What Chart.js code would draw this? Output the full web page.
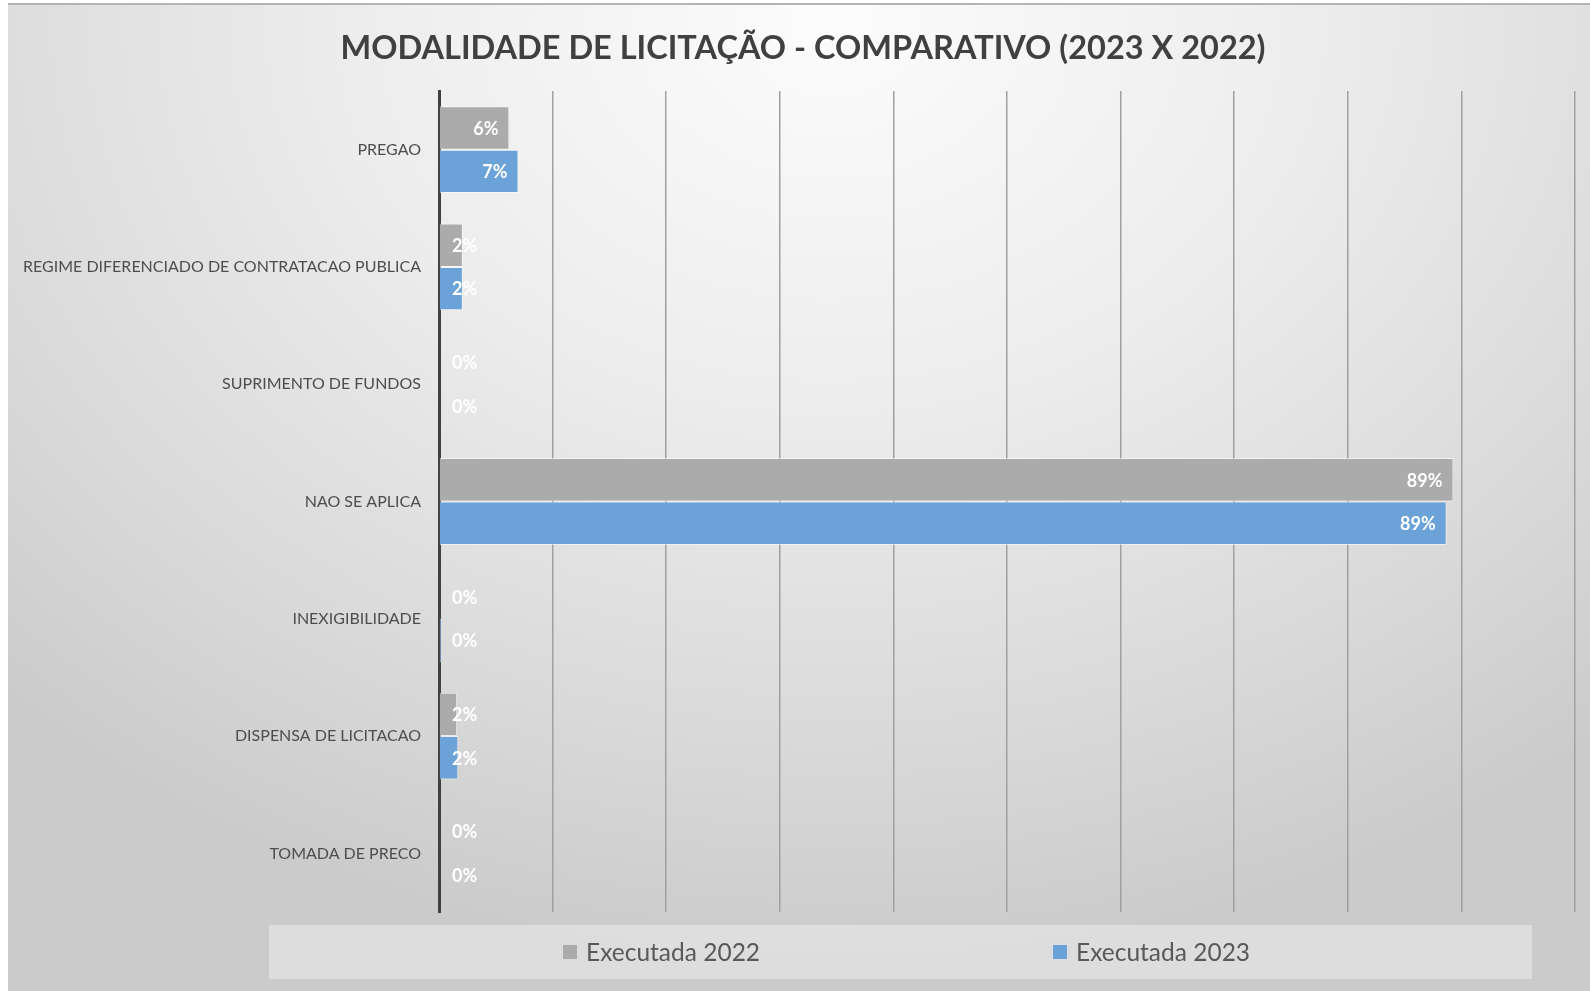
<!DOCTYPE html>
<html>
<head>
<meta charset="utf-8">
<script src="https://cdn.jsdelivr.net/npm/chart.js@4"></script>
<style>
  html, body { margin: 0; padding: 0; background: #fff; overflow: hidden; }
  #wrap {
    position: absolute; left: 8px; top: 3px; width: 1582px; height: 988px;
    background: radial-gradient(ellipse 75% 95% at 52% 2%, #fcfcfc 0%, #ededed 40%, #dadada 75%, #cbcbcb 100%);
  }
  #wrap::before {
    content: ''; position: absolute; left: 0; top: 0; right: 0; height: 2px; background: #b4b4b4;
  }
  canvas { display: block; }
</style>
</head>
<body>
<div id="wrap"><canvas id="modalidade"></canvas></div>
<script>
const categories = [
    'PREGAO',
    'REGIME DIFERENCIADO DE CONTRATACAO PUBLICA',
    'SUPRIMENTO DE FUNDOS',
    'NAO SE APLICA',
    'INEXIGIBILIDADE',
    'DISPENSA DE LICITACAO',
    'TOMADA DE PRECO'
];
const executada2022 = [6.2, 2.1, 0, 89.3, 0, 1.6, 0];
const executada2023 = [7.0, 2.1, 0, 88.7, 0.2, 1.7, 0];
const xTicks = [0, 10, 20, 30, 40, 50, 60, 70, 80, 90, 100];

// rotulos brancos no fim de cada barra
const barLabels = {
    id: 'barLabels',
    afterDatasetsDraw(chart) {
        const ctx = chart.ctx;
        const x0 = chart.scales.x.getPixelForValue(0);
        ctx.save();
        ctx.font = 'bold 18px Lato';
        ctx.fillStyle = '#ffffff';
        ctx.textBaseline = 'middle';
        chart.data.datasets.forEach((ds, i) => {
            chart.getDatasetMeta(i).data.forEach((bar, j) => {
                const text = Math.round(ds.data[j]) + '%';
                const w = ctx.measureText(text).width;
                const x = Math.max(bar.x - 11 - w, x0 + 13);
                ctx.fillText(text, x, bar.y + 1);
            });
        });
        ctx.restore();
    }
};

// legenda dentro de uma caixa clara embaixo
const boxLegend = {
    id: 'boxLegend',
    afterDraw(chart) {
        const ctx = chart.ctx;
        const box = { x: 261, y: 922, w: 1263, h: 54 };
        const starts = [555, 1045];
        ctx.save();
        ctx.fillStyle = 'rgba(255, 255, 255, 0.35)';
        ctx.fillRect(box.x, box.y, box.w, box.h);
        ctx.font = '24.5px Lato';
        ctx.textBaseline = 'middle';
        chart.data.datasets.forEach((ds, i) => {
            ctx.fillStyle = ds.backgroundColor;
            ctx.fillRect(starts[i], box.y + 20, 14, 14);
            ctx.fillStyle = '#595959';
            ctx.fillText(ds.label, starts[i] + 23, box.y + 28.5);
        });
        ctx.restore();
    }
};

const ctx = document.getElementById('modalidade');
window.modalidade = new Chart(ctx, {
    type: 'bar',
    data: {
        labels: categories,
        datasets: [
            {
                label: 'Executada 2022',
                data: executada2022,
                backgroundColor: '#ababab',
                borderColor: 'rgba(255, 255, 255, 0.55)',
                borderWidth: 1,
                barPercentage: 1.0,
                categoryPercentage: 0.74
            },
            {
                label: 'Executada 2023',
                data: executada2023,
                backgroundColor: '#6ba3d9',
                borderColor: 'rgba(255, 255, 255, 0.55)',
                borderWidth: 1,
                barPercentage: 1.0,
                categoryPercentage: 0.74
            }
        ]
    },
    options: {
        indexAxis: 'y',
        responsive: true,
        maintainAspectRatio: false,
        animation: false,
        layout: { padding: { left: 23, right: 15, top: 0, bottom: 79 } },
        plugins: {
            title: {
                display: true,
                text: 'MODALIDADE DE LICITAÇÃO - COMPARATIVO (2023 X 2022)',
                color: '#404040',
                font: { family: 'Lato', size: 32.5, weight: 'bold' },
                padding: { top: 26, bottom: 23 }
            },
            legend: { display: false },
            tooltip: { enabled: false }
        },
        scales: {
            x: {
                min: 0,
                max: 100,
                afterBuildTicks: s => { s.ticks = xTicks.map(v => ({ value: v })); },
                afterFit: s => { s.height = 0; },
                ticks: { display: false },
                border: { display: false },
                grid: {
                    drawTicks: false,
                    color: c => c.tick && c.tick.value === 0 ? 'rgba(0,0,0,0)' : '#a0a0a0',
                    lineWidth: 1.5
                }
            },
            y: {
                afterFit: s => {
                    s.width = 408;
                    // o rotulo mais longo passa da borda esquerda da escala
                    s._computeLabelArea = () => undefined;
                },
                ticks: {
                    color: '#4d4d4d',
                    font: { family: 'Lato', size: 16 },
                    padding: 18
                },
                border: { display: true, color: '#404040', width: 3 },
                grid: { display: false, drawTicks: false }
            }
        }
    },
    plugins: [barLabels, boxLegend]
});
</script>
</body>
</html>
